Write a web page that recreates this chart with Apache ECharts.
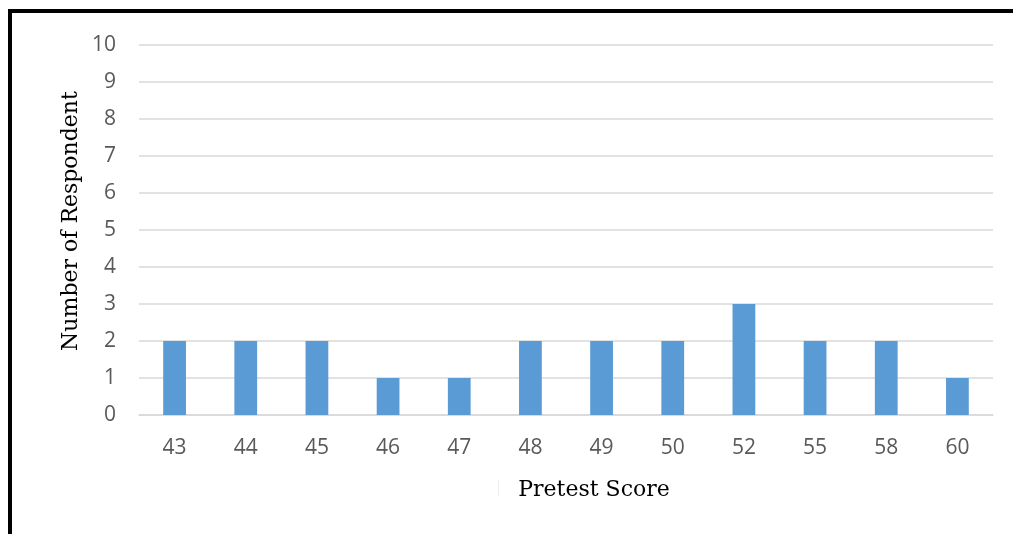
<!DOCTYPE html>
<html>
<head>
<meta charset="utf-8">
<script src="https://cdn.jsdelivr.net/npm/echarts@6/dist/echarts.min.js"></script>
<style>
  html, body { margin: 0; padding: 0; background: #fff; }
  #chart { width: 1013px; height: 534px; }
</style>
</head>
<body>
<div id="chart"></div>
<script>
// pretest score frequency
var scores = ['43', '44', '45', '46', '47', '48', '49', '50', '52', '55', '58', '60'];
var respondents = [2, 2, 2, 1, 1, 2, 2, 2, 3, 2, 2, 1];
var yTicks = [0, 10, 1]; // min, max, interval

var chart = echarts.init(document.getElementById('chart'), null, { renderer: 'canvas' });

var titleFont = 'DejaVu Serif';
var tickFont = 'Open Sans';

var option = {
  backgroundColor: '#fff',
  animation: false,
  grid: {
    left: 139,
    right: 20,
    top: 45,
    bottom: 119,
    containLabel: false
  },
  xAxis: {
    type: 'category',
    data: scores,
    axisLine: { show: true, lineStyle: { color: '#d9d9d9', width: 1.5 } },
    axisTick: { show: false },
    axisLabel: {
      margin: 23,
      fontFamily: tickFont,
      fontSize: 21,
      color: '#595959'
    }
  },
  yAxis: {
    type: 'value',
    min: yTicks[0],
    max: yTicks[1],
    interval: yTicks[2],
    axisLine: { show: false },
    axisTick: { show: false },
    axisLabel: {
      margin: 23,
      fontFamily: tickFont,
      fontSize: 21,
      color: '#595959'
    },
    splitLine: { lineStyle: { color: '#d9d9d9', width: 1.5 } }
  },
  series: [{
    type: 'bar',
    data: respondents,
    barWidth: '32%',
    itemStyle: { color: '#5b9bd5' }
  }],
  graphic: [
    // frame (top + left edges visible in reference)
    { type: 'rect', shape: { x: 8, y: 9, width: 1005, height: 4 }, style: { fill: '#000' } },
    { type: 'rect', shape: { x: 8, y: 9, width: 4, height: 525 }, style: { fill: '#000' } },
    // axis titles
    {
      type: 'text', x: 71, y: 221, rotation: Math.PI / 2,
      style: {
        text: 'Number of Respondent', font: '22px "' + titleFont + '"',
        fill: '#000', align: 'center', verticalAlign: 'middle'
      }
    },
    {
      type: 'text', x: 594, y: 490,
      style: {
        text: 'Pretest Score', font: '22px "' + titleFont + '"',
        fill: '#000', align: 'center', verticalAlign: 'middle'
      }
    },
    // faint mark left of the x title
    { type: 'rect', shape: { x: 498, y: 480, width: 1, height: 16 }, style: { fill: '#eeeeee' } }
  ]
};

chart.setOption(option);
</script>
</body>
</html>
